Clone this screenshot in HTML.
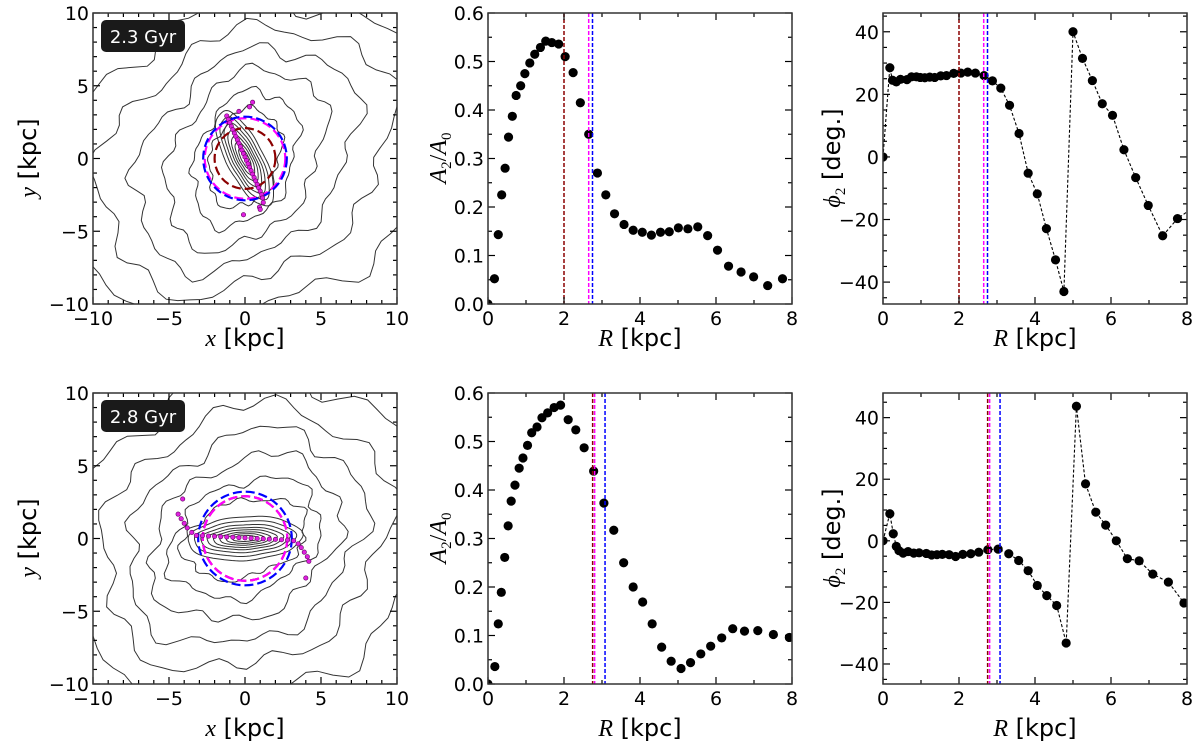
<!DOCTYPE html>
<html><head><meta charset="utf-8"><style>
html,body{margin:0;padding:0;background:#fff;}
svg{display:block;font-family:"DejaVu Sans","Liberation Sans",sans-serif;}
</style></head><body>
<svg id="fig" width="1200" height="752" viewBox="0 0 1200 752" xmlns="http://www.w3.org/2000/svg"></svg>
<script>
// ---- data ----
const a2TopR = [0,0.17,0.27,0.36,0.45,0.54,0.64,0.74,0.86,0.97,1.1,1.23,1.38,1.52,1.68,1.86,2.03,2.24,2.43,2.65,2.88,3.1,3.33,3.58,3.82,4.06,4.3,4.54,4.77,5.01,5.26,5.52,5.78,6.04,6.33,6.66,6.99,7.36,7.75];
const a2TopV = [0,0.052,0.143,0.225,0.28,0.344,0.387,0.43,0.45,0.475,0.497,0.515,0.529,0.542,0.539,0.536,0.51,0.477,0.415,0.35,0.27,0.225,0.186,0.164,0.152,0.148,0.142,0.148,0.149,0.157,0.155,0.159,0.141,0.111,0.078,0.066,0.056,0.038,0.052];
const phiTopR = [0,0.18,0.25,0.35,0.46,0.63,0.75,0.88,0.98,1.1,1.23,1.36,1.52,1.67,1.86,2.05,2.23,2.43,2.66,2.88,3.1,3.33,3.58,3.82,4.06,4.3,4.54,4.76,5.0,5.25,5.51,5.77,6.04,6.34,6.65,6.98,7.36,7.75,8.3];
const phiTopV = [0,28.5,24.5,24,24.8,24.7,25.6,25.6,25.4,25.3,25.5,25.4,25.9,26,26.7,26.8,27.1,26.8,26,24.3,22,16.5,7.5,-5.2,-11.8,-22.9,-32.9,-43,40,31.5,24.4,17,13.3,2.3,-6.6,-15.5,-25.2,-19.7,-15];
const a2BotR = [0,0.18,0.27,0.35,0.44,0.53,0.61,0.71,0.82,0.92,1.04,1.15,1.29,1.42,1.57,1.74,1.91,2.11,2.31,2.53,2.78,3.05,3.31,3.57,3.82,4.07,4.32,4.57,4.82,5.08,5.33,5.6,5.86,6.15,6.44,6.75,7.1,7.51,7.93];
const a2BotV = [0,0.036,0.124,0.189,0.261,0.326,0.377,0.41,0.445,0.466,0.492,0.518,0.53,0.549,0.559,0.57,0.575,0.545,0.524,0.487,0.439,0.373,0.317,0.25,0.2,0.169,0.124,0.076,0.047,0.032,0.044,0.062,0.078,0.095,0.114,0.109,0.11,0.102,0.096];
const phiBotR = [0,0.18,0.27,0.35,0.42,0.53,0.66,0.81,0.95,1.14,1.28,1.42,1.56,1.74,1.91,2.1,2.31,2.52,2.76,3.03,3.31,3.57,3.82,4.06,4.31,4.57,4.82,5.09,5.33,5.6,5.86,6.14,6.43,6.74,7.1,7.51,7.92];
const phiBotV = [0,8.8,2.3,-1.8,-3.2,-4,-3.5,-4,-3.9,-4.1,-4.6,-4.5,-4.4,-4.5,-5.1,-4.4,-4.2,-3.7,-2.9,-2.7,-4.2,-6.4,-9.7,-14.5,-17.8,-21,-33.2,43.7,18.5,9.3,5.1,0,-5.8,-6.5,-10.8,-13.4,-20.2];
const radiiTop = [2.0, 2.65, 2.75];   // brown, magenta, blue
const radiiBot = [2.78, 2.78, 3.08];
const xyTicks = [-10,-5,0,5,10];
const rTicks = [0,2,4,6,8];
const a2Ticks = [0,0.1,0.2,0.3,0.4,0.5,0.6];
const phiTicks = [-40,-20,0,20,40];

const NS = "http://www.w3.org/2000/svg";
const fig = document.getElementById('fig');
function el(tag, attrs, parent){const e=document.createElementNS(NS,tag);for(const k in attrs)e.setAttribute(k,attrs[k]);(parent||fig).appendChild(e);return e;}
function lin(d0,d1,p0,p1){return v=>p0+(v-d0)*(p1-p0)/(d1-d0);}

let clipId=0;
function axes(box, xr, yr, xmaj, xmin, ymaj, ymin, xt, yt, fmtY, name){
  const g = el('g',{});
  
  
  const X=lin(xr[0],xr[1],box.x0,box.x1), Y=lin(yr[0],yr[1],box.y1,box.y0);
  const cid='c'+(clipId++);
  const cp=el('clipPath',{id:cid},g); el('rect',{x:box.x0,y:box.y0,width:box.x1-box.x0,height:box.y1-box.y0},cp);
  const plot=el('g',{'clip-path':'url(#'+cid+')'},g);
  const tk=el('g',{stroke:'#000','stroke-width':1.2},g);
  for(let v=Math.ceil(xr[0]/xmin)*xmin; v<=xr[1]+1e-9; v+=xmin){
    const maj=Math.abs(v/xmaj-Math.round(v/xmaj))<1e-6, L=maj?7:4, x=X(v);
    el('line',{x1:x,x2:x,y1:box.y1,y2:box.y1-L},tk); el('line',{x1:x,x2:x,y1:box.y0,y2:box.y0+L},tk);
  }
  for(let v=Math.ceil(yr[0]/ymin)*ymin; v<=yr[1]+1e-9; v+=ymin){
    const maj=Math.abs(v/ymaj-Math.round(v/ymaj))<1e-6, L=maj?7:4, y=Y(v);
    el('line',{x1:box.x0,x2:box.x0+L,y1:y,y2:y},tk); el('line',{x1:box.x1,x2:box.x1-L,y1:y,y2:y},tk);
  }
  xt.forEach(v=>{const t=el('text',{x:X(v),y:box.y1+21,'text-anchor':'middle','font-size':19},g);t.textContent=String(v).replace('-','\u2212');});
  yt.forEach(v=>{const t=el('text',{x:box.x0-4,y:Y(v)+7,'text-anchor':'end','font-size':19},g);t.textContent=fmtY(v);});
  el('rect',{x:box.x0,y:box.y0,width:box.x1-box.x0,height:box.y1-box.y0,fill:'none',stroke:'#333','stroke-width':1.5},g);
  return {X,Y,plot,g};
}
function xlabel(cx,y,italic,rest){const t=el('text',{x:cx,y:y,'text-anchor':'middle','font-size':24});
  const a=el('tspan',{'font-family':'Liberation Serif, serif','font-style':'italic'},t);a.textContent=italic;
  const b=el('tspan',{},t);b.textContent=rest;return t;}
function ylabel(cx,cy,parts){const t=el('text',{x:0,y:0,'text-anchor':'middle','font-size':24,transform:`translate(${cx},${cy}) rotate(-90)`});
  parts.forEach(p=>{const s=el('tspan',p.a||{},t);s.textContent=p.t;});return t;}

const colors=['#8b0000','#ff00ff','#0000ff'];
function vlines(ax, radii, box){
  radii.forEach((r,i)=>{
    let off=0;
    if(i===0 && Math.abs(radii[1]-r)<0.02) off=-1;
    if(i===1 && Math.abs(radii[0]-r)<0.02) off=1;
    const l=el('line',{x1:ax.X(r)+off,x2:ax.X(r)+off,y1:box.y0,y2:box.y1,stroke:colors[i],'stroke-width':1.5,'stroke-dasharray':'4,2'},ax.plot);
    
    
  });
}
function dots(ax, xs, ys, line){
  if(line){
    const d=xs.map((x,i)=>(i?'L':'M')+ax.X(x).toFixed(1)+','+ax.Y(ys[i]).toFixed(1)).join(' ');
    const p=el('path',{d:d,fill:'none',stroke:'#000','stroke-width':1.1,'stroke-dasharray':'3,2'},ax.plot);
    
    
  }
  xs.forEach((x,i)=>{
    const c=el('circle',{cx:ax.X(x),cy:ax.Y(ys[i]),r:4.6,fill:'#000'},ax.plot);
    
    
  });
}

function contourPanel(box, top, label){
  const ax=axes(box,[-10,10],[-10,10],5,1,5,1,xyTicks,xyTicks,v=>String(v).replace('-','\u2212'),top?'contour-panel-top':'contour-panel-bottom');
  const cx=ax.X(0), cy=ax.Y(0), s=(box.x1-box.x0)/20;
  const levels = top ? [[11.5,11,0.2,4],[9.3,8.6,0.4,1],[7.5,6.6,0.6,2],[5.8,5.0,0.8,3],[4.2,3.5,1.0,5],[3.0,2.5,1.1,6],[3.1,1.35,-1.15,0],[2.7,1.1,-1.15,0],[2.3,0.9,-1.15,0],[1.9,0.72,-1.15,0],[1.5,0.57,-1.15,0],[1.1,0.42,-1.15,0],[0.7,0.27,-1.15,0]]
                     : [[11.5,11,0.1,4],[9.3,8.6,0.2,1],[7.8,6.8,0.3,2],[6.3,5.2,0.3,3],[5.0,3.8,0.25,5],[4.0,2.6,0.15,6],[3.6,1.5,0,0],[3.2,1.2,0,0],[2.8,0.95,0,0],[2.4,0.75,0,0],[2.0,0.6,0,0],[1.6,0.45,0,0],[1.2,0.33,0,0],[0.8,0.2,0,0]];
  const cg=el('g',{fill:'none',stroke:'#333','stroke-width':1},ax.plot);
  levels.forEach((L,k)=>{
    let d='';
    for(let j=0;j<=90;j++){
      const t=j/90*2*Math.PI;
      const w=1+(L[3]?0.06*Math.sin(5*t+k)+0.04*Math.sin(11*t+2*k)+0.03*Math.sin(17*t):0.02*Math.sin(7*t));
      const sp=top?1+0.12*Math.sin(2*t+1):1+0.08*Math.sin(2*t+0.5);
      const ex=L[0]*Math.cos(t)*w*sp, ey=L[1]*Math.sin(t)*w*sp;
      const x=ex*Math.cos(L[2])-ey*Math.sin(L[2]), y=ex*Math.sin(L[2])+ey*Math.cos(L[2]);
      d+=(j?'L':'M')+(cx+x*s).toFixed(1)+','+(cy-y*s).toFixed(1);
    }
    const p=el('path',{d:d},cg);
    
    
  });
  const radii = top?radiiTop:radiiBot;
  radii.forEach((r,i)=>{
    const c=el('circle',{cx:cx,cy:cy,r:r*s,fill:'none',stroke:colors[i],'stroke-width':2.2,'stroke-dasharray':'9,4'},ax.plot);
    
    
  });
  const bx = top?[-1.2,-1.1,-1.0,-0.9,-0.8,-0.7,-0.6,-0.5,-0.4,-0.3,-0.2,-0.1,0,0.1,0.2,0.3,0.4,0.5,0.6,0.7,0.8,0.9,1.0,1.1,1.15,1.2,0.95,0.3,-0.4,0.5,-0.1,1.0]
                 :[-3.2,-2.8,-2.4,-2.0,-1.6,-1.2,-0.8,-0.4,0,0.4,0.8,1.2,1.6,2.0,2.4,2.8,3.2,3.5,3.7,3.9,4.1,4.2,4.0,-3.5,-3.8,-4.0,-4.2,-4.4,-4.1];
  const by = top?[2.8,2.57,2.35,2.12,1.9,1.67,1.45,1.22,1.0,0.77,0.55,0.32,0.1,-0.13,-0.35,-0.58,-0.8,-1.03,-1.25,-1.48,-1.7,-1.93,-2.15,-2.38,-2.6,-2.9,-3.2,3.4,3.1,3.7,-3.7,-3.35]
                 :[0.2,0.18,0.16,0.14,0.12,0.1,0.08,0.06,0.04,0.02,0.0,-0.02,-0.04,-0.06,-0.08,-0.1,-0.15,-0.35,-0.6,-0.9,-1.2,-1.5,-2.6,0.4,0.7,1.0,1.3,1.6,2.6];
  bx.forEach((x,i)=>{
    const c=el('circle',{cx:cx+x*s,cy:cy-by[i]*s,r:2.2,fill:'#e020e0',stroke:'#600060','stroke-width':0.6},ax.plot);
    
    
  });
  const lg=el('g',{});
  
  
  el('rect',{x:box.x0+8,y:box.y0+7,width:84,height:32,rx:5,fill:'#1a1a1a'},lg);
  const t=el('text',{x:box.x0+50,y:box.y0+30,'text-anchor':'middle','font-size':18,fill:'#fff'},lg); t.textContent=label;
  return ax;
}

function a2Panel(box, R, V, radii, nm){
  const ax=axes(box,[0,8],[0,0.6],2,1,0.1,0.05,rTicks,a2Ticks,v=>v.toFixed(1),nm);
  dots(ax,R,V,false); vlines(ax,radii,box); return ax;
}
function phiPanel(box, yr, R, V, radii, nm){
  const ax=axes(box,[0,8],yr,2,1,20,5,rTicks,phiTicks,v=>String(v).replace('-','\u2212'),nm);
  dots(ax,R,V,true); vlines(ax,radii,box); return ax;
}

const T={y0:13,y1:304}, B={y0:393,y1:684};
contourPanel({x0:93,x1:397,...T},true,'2.3 Gyr');
contourPanel({x0:93,x1:397,...B},false,'2.8 Gyr');
a2Panel({x0:488,x1:792,...T},a2TopR,a2TopV,radiiTop,'a2-panel-top');
a2Panel({x0:488,x1:792,...B},a2BotR,a2BotV,radiiBot,'a2-panel-bottom');
phiPanel({x0:883,x1:1187,...T},[-47,46],phiTopR,phiTopV,radiiTop,'phi2-panel-top');
phiPanel({x0:883,x1:1187,...B},[-46.5,48],phiBotR,phiBotV,radiiBot,'phi2-panel-bottom');

[[346,'top'],[736,'bottom']].forEach(([y,n])=>{
  let t=xlabel(245,y,'x',' [kpc]');  
  t=xlabel(640,y,'R',' [kpc]');  
  t=xlabel(1035,y,'R',' [kpc]');  
});
[[158,'top'],[538,'bottom']].forEach(([c,n])=>{
  let t=ylabel(36,c,[{t:'y',a:{'font-family':'Liberation Serif, serif','font-style':'italic'}},{t:' [kpc]'}]);
   
  t=ylabel(446,c,[{t:'A',a:{'font-family':'Liberation Serif, serif','font-style':'italic'}},{t:'2',a:{'font-size':15,dy:5,'font-family':'Liberation Serif, serif'}},{t:'/',a:{dy:-5,'font-family':'Liberation Serif, serif'}},{t:'A',a:{'font-family':'Liberation Serif, serif','font-style':'italic'}},{t:'0',a:{'font-size':15,dy:5,'font-family':'Liberation Serif, serif'}}]);
   
  t=ylabel(840,c,[{t:'\u03d5',a:{'font-family':'Liberation Serif, serif','font-style':'italic'}},{t:'2',a:{'font-size':15,dy:5,'font-family':'Liberation Serif, serif'}},{t:' [deg.]',a:{dy:-5}}]);
   
});
</script>
</body></html>
